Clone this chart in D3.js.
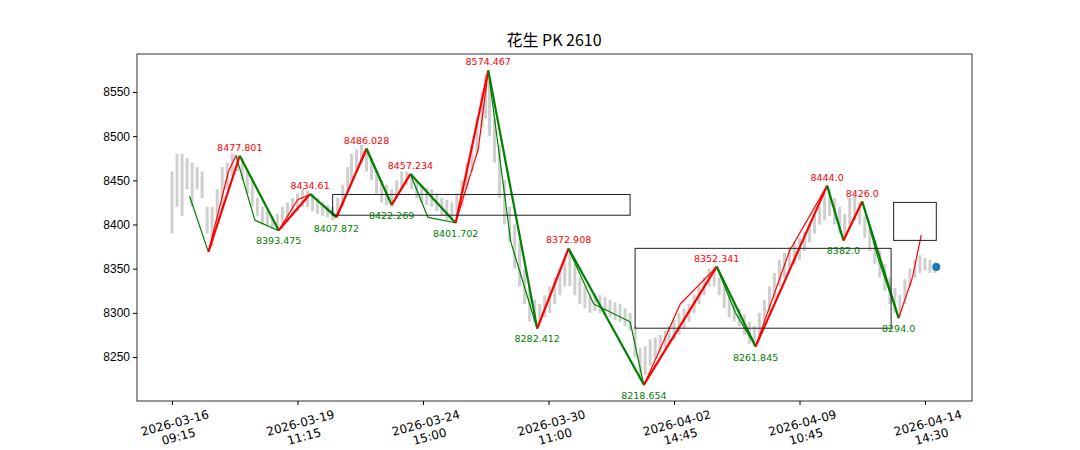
<!DOCTYPE html>
<html><head><meta charset="utf-8">
<script src="https://cdn.jsdelivr.net/npm/d3@7"></script>
<style>body{margin:0;background:#fff}svg{font-family:"DejaVu Sans",sans-serif}</style>
</head><body><svg id="chart"></svg>
<script>
// bar index -> tick labels
const tickIdx = [0, 100, 200, 300, 400, 500, 600];
const tickLabels = [["2026-03-16","09:15"],["2026-03-19","11:15"],["2026-03-24","15:00"],["2026-03-30","11:00"],["2026-04-02","14:45"],["2026-04-09","10:45"],["2026-04-14","14:30"]];
const yTicks = [8250, 8300, 8350, 8400, 8450, 8500, 8550];

// gray price ranges: [index, low, high]
const priceBars = [[0,8390,8460],[4,8420,8480],[8,8410,8480],[12,8440,8475],[16,8420,8470],[20,8440,8465],[24,8430,8460],[28,8390,8420],[32,8375,8420],[36,8400,8440],[40,8420,8465],[44,8440,8470],[48,8455,8480],[52,8460,8478],[56,8450,8475],[60,8435,8460],[64,8420,8450],[68,8410,8430],[72,8400,8420],[76,8398,8415],[80,8395,8410],[84,8393,8412],[88,8395,8420],[92,8405,8425],[96,8410,8430],[100,8415,8435],[104,8420,8440],[108,8420,8438],[112,8415,8435],[116,8412,8430],[120,8410,8425],[124,8408,8422],[128,8405,8420],[132,8410,8430],[136,8420,8445],[140,8440,8465],[143,8450,8480],[147,8460,8485],[151,8470,8490],[155,8460,8485],[159,8450,8475],[163,8435,8460],[167,8425,8450],[171,8422,8445],[175,8420,8440],[179,8430,8450],[183,8440,8460],[187,8445,8460],[191,8440,8458],[195,8430,8450],[199,8425,8445],[203,8422,8442],[207,8420,8440],[211,8415,8435],[215,8410,8430],[219,8405,8428],[223,8405,8425],[227,8410,8435],[231,8420,8450],[235,8440,8470],[239,8460,8490],[243,8480,8520],[247,8510,8550],[250,8520,8570],[253,8500,8565],[257,8470,8520],[261,8430,8490],[265,8400,8450],[269,8380,8420],[273,8350,8400],[277,8330,8380],[281,8310,8350],[285,8290,8330],[289,8288,8315],[293,8290,8310],[297,8295,8320],[301,8300,8330],[305,8310,8340],[309,8320,8350],[313,8330,8360],[317,8330,8370],[321,8320,8355],[325,8310,8340],[329,8305,8330],[333,8300,8320],[337,8302,8322],[341,8300,8320],[345,8298,8318],[349,8295,8315],[353,8292,8312],[357,8290,8310],[361,8285,8305],[365,8280,8300],[369,8250,8285],[373,8225,8260],[377,8230,8262],[381,8240,8270],[385,8248,8272],[389,8255,8275],[393,8260,8280],[396,8265,8285],[400,8270,8292],[404,8275,8300],[408,8282,8305],[412,8290,8310],[416,8300,8320],[420,8310,8330],[424,8320,8340],[428,8330,8350],[432,8330,8352],[436,8320,8340],[440,8305,8330],[444,8295,8320],[448,8290,8310],[452,8285,8305],[456,8275,8298],[460,8265,8290],[464,8262,8285],[468,8275,8300],[472,8285,8315],[476,8300,8330],[480,8315,8345],[484,8330,8360],[488,8340,8368],[492,8350,8375],[496,8355,8380],[500,8360,8385],[504,8370,8392],[508,8380,8400],[512,8390,8410],[516,8400,8420],[520,8405,8435],[524,8410,8440],[528,8400,8430],[532,8390,8420],[536,8385,8412],[540,8400,8430],[544,8405,8432],[548,8400,8425],[552,8385,8410],[556,8370,8395],[560,8355,8382],[564,8340,8370],[568,8325,8355],[572,8310,8340],[576,8300,8328],[580,8295,8320],[584,8310,8338],[588,8330,8350],[592,8340,8360],[596,8345,8365],[600,8348,8362],[604,8345,8360],[608,8345,8358]];

// main zigzag: [index, value]
const zigzag = [[29,8369],[54,8477.801],[85,8393.475],[110,8434.61],[131,8407.872],[155,8486.028],[175,8422.269],[190,8457.234],[226,8401.702],[252,8574.467],[291,8282.412],[316,8372.908],[376,8218.654],[434,8352.341],[465,8261.845],[522,8444.0],[535,8382.0],[550,8426.0],[579,8294.0]];
const zzLabels = ["", "8477.801","8393.475","8434.61","8407.872","8486.028","8422.269","8457.234","8401.702","8574.467","8282.412","8372.908","8218.654","8352.341","8261.845","8444.0","8382.0","8426.0","8294.0"];

// secondary thin line
const thinLine = [[14,8432],[29,8369],[45,8460],[51,8478],[66,8405],[85,8393],[100,8428],[110,8434],[131,8410],[155,8484],[175,8422],[190,8457],[204,8408],[226,8402],[244,8485],[252,8574],[270,8380],[291,8282],[316,8372],[336,8310],[365,8290],[376,8218],[405,8310],[434,8352],[449,8300],[465,8262],[492,8370],[522,8444],[535,8382],[550,8426],[563,8360],[579,8294],[590,8340],[597,8388]];

// boxes: [i0, i1, v0, v1]
const boxes = [[128,365,8410.5,8434],[369,573,8282.6,8373],[575,609,8382,8425]];
const lastPoint = [609, 8352];

const W = 1080, H = 450;
const svg = d3.select('#chart').attr('width', W).attr('height', H);
const m = {left: 137, right: 972, top: 54, bottom: 401};
const x = d3.scaleLinear().domain([0, 100]).range([172, 297.5]);
const y = d3.scaleLinear().domain([8250, 8550]).range([357, 92]);

svg.append('text').attr('x', 554).attr('y', 46).attr('text-anchor', 'middle')
  .style('font-family', '"Noto Sans CJK SC"').style('font-size', '16px').text('花生 PK 2610');

svg.append('g').selectAll('line').data(priceBars).enter().append('line')
  .attr('x1', d => x(d[0])).attr('x2', d => x(d[0]))
  .attr('y1', d => y(d[1])).attr('y2', d => y(d[2]))
  .attr('stroke', '#cfcfcf').attr('stroke-width', 3);

const seg = (pts, w) => svg.append('g').selectAll('line').data(d3.pairs(pts)).enter().append('line')
  .attr('x1', d => x(d[0][0])).attr('y1', d => y(d[0][1]))
  .attr('x2', d => x(d[1][0])).attr('y2', d => y(d[1][1]))
  .attr('stroke', d => d[1][1] > d[0][1] ? 'red' : 'green').attr('stroke-width', w);
seg(thinLine, 1.2);
seg(zigzag, 2.2);

svg.append('g').selectAll('rect').data(boxes).enter().append('rect')
  .attr('x', d => x(d[0])).attr('width', d => x(d[1]) - x(d[0]))
  .attr('y', d => y(d[3])).attr('height', d => y(d[2]) - y(d[3]))
  .attr('fill', 'none').attr('stroke', '#222').attr('stroke-width', 1);

svg.append('g').selectAll('text').data(zigzag.slice(1)).enter().append('text')
  .attr('x', d => x(d[0])).attr('text-anchor', 'middle').style('font-size', '9.5px')
  .attr('y', (d, i) => d[1] > zigzag[i][1] ? y(d[1]) - 5 : y(d[1]) + 14)
  .attr('fill', (d, i) => d[1] > zigzag[i][1] ? 'red' : 'green')
  .text((d, i) => zzLabels[i + 1]);

svg.append('circle').attr('cx', x(lastPoint[0])).attr('cy', y(lastPoint[1])).attr('r', 4).attr('fill', '#1f77b4');

svg.append('rect').attr('x', m.left).attr('y', m.top).attr('width', m.right - m.left).attr('height', m.bottom - m.top)
  .attr('fill', 'none').attr('stroke', '#000').attr('stroke-width', 0.8);

const ya = svg.append('g').attr('transform', `translate(${m.left},0)`)
  .call(d3.axisLeft(y).tickValues(yTicks).tickSize(4).tickFormat(d3.format('d')));
ya.select('.domain').remove();
ya.selectAll('text').style('font-size', '12px').attr('fill', '#000');

const xa = svg.append('g').attr('transform', `translate(0,${m.bottom})`)
  .call(d3.axisBottom(x).tickValues(tickIdx).tickSize(4).tickFormat(''));
xa.select('.domain').remove();
tickIdx.forEach((t, i) => {
  const tx = svg.append('text').attr('transform', `translate(${x(t) + 4},${m.bottom + 26}) rotate(-15)`)
    .attr('text-anchor', 'middle').style('font-size', '12px');
  tx.append('tspan').attr('x', 0).attr('dy', 0).text(tickLabels[i][0]);
  tx.append('tspan').attr('x', 0).attr('dy', 14).text(tickLabels[i][1]);
});
</script></body></html>
